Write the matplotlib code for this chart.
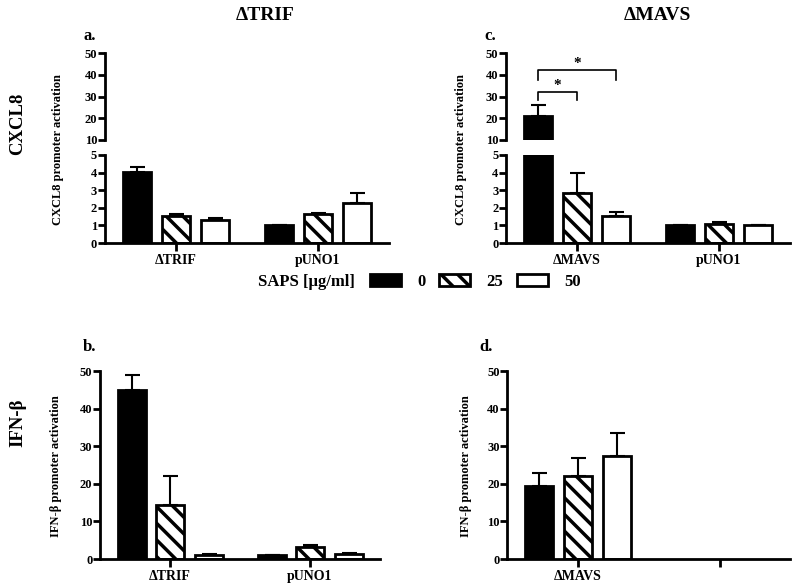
import matplotlib
matplotlib.use("Agg")
import matplotlib.pyplot as plt
import numpy as np
from matplotlib.patches import Patch

plt.rcParams['font.family'] = ['Liberation Serif', 'DejaVu Serif']
plt.rcParams['font.weight'] = 'bold'
plt.rcParams['hatch.linewidth'] = 2.5
plt.rcParams['hatch.color'] = 'black'

# ---- data ----
doses = ['0', '25', '50']
cat_a = ['ΔTRIF', 'pUNO1']
a_vals = [[4.05, 1.0], [1.55, 1.65], [1.3, 2.3]]      # per dose: [ΔTRIF, pUNO1]
a_err = [[0.25, 0.0], [0.08, 0.06], [0.1, 0.55]]
cat_c = ['ΔMAVS', 'pUNO1']
c_vals = [[21.0, 1.0], [2.85, 1.1], [1.55, 1.0]]
c_err = [[5.0, 0.0], [1.1, 0.07], [0.2, 0.02]]
cat_b = ['ΔTRIF', 'pUNO1']
b_vals = [[45.0, 1.0], [14.5, 3.3], [1.1, 1.3]]
b_err = [[4.0, 0.0], [7.5, 0.5], [0.1, 0.2]]
cat_d = ['ΔMAVS', '']
d_vals = [[19.3, 0.0], [22.2, 0.0], [27.3, 0.0]]
d_err = [[3.7, 0.0], [4.8, 0.0], [6.3, 0.0]]
d_show = [True, False]

colors = ['black', 'white', 'white']
hatches = [None, '\\\\', None]
offsets = [-0.275, 0.0, 0.275]
bw = 0.2

fig = plt.figure(figsize=(8, 5.87), dpi=100)

def style(ax, bottom=True):
    for s in ['top', 'right']:
        ax.spines[s].set_visible(False)
    ax.spines['left'].set_linewidth(2)
    ax.spines['bottom'].set_linewidth(2)
    if not bottom:
        ax.spines['bottom'].set_visible(False)
    ax.tick_params(direction='out', width=2, length=5, labelsize=9, pad=0.5)
    ax.tick_params(axis='x', length=6, pad=2, labelsize=10)
    for lab in ax.get_yticklabels() + ax.get_xticklabels():
        lab.set_fontweight('bold')

def draw_bars(ax, vals, err, show=None):
    x = np.arange(len(vals[0]))
    for i in range(3):
        for j in range(len(x)):
            if show is not None and not show[j]:
                continue
            ax.errorbar(x[j] + offsets[i], vals[i][j], yerr=[[0], [err[i][j]]],
                        fmt='none', ecolor='black', elinewidth=1.5, capsize=5.4,
                        capthick=1.5, zorder=1)
            ax.bar(x[j] + offsets[i], vals[i][j], width=bw, color=colors[i],
                   edgecolor='black', linewidth=2, hatch=hatches[i], zorder=2)
    ax.set_xlim(-0.5, 1.5)

def broken(left, vals, err, cats):
    w = 0.355
    axu = fig.add_axes([left, 0.7615, w, 0.148])
    axl = fig.add_axes([left, 0.586, w, 0.150])
    draw_bars(axu, vals, err)
    draw_bars(axl, vals, err)
    axu.set_ylim(10, 50)
    axu.set_yticks([10, 20, 30, 40, 50])
    axl.set_ylim(0, 5)
    axl.set_yticks([0, 1, 2, 3, 4, 5])
    axu.set_xticks([])
    axl.set_xticks([0, 1])
    axl.set_xticklabels(cats)
    style(axu, bottom=False)
    style(axl)
    return axu, axl

axu_a, axl_a = broken(0.131, a_vals, a_err, cat_a)
axu_c, axl_c = broken(0.6325, c_vals, c_err, cat_c)

# significance brackets in c
def bracket(ax, x1, x2, y, drop, ytext):
    ax.plot([x1, x1, x2, x2], [y - drop[0], y, y, y - drop[1]], color='black', lw=1.2, clip_on=False)
    ax.text((x1 + x2) / 2, ytext, '*', ha='center', va='center', fontsize=11)

bracket(axu_c, offsets[0], offsets[1], 32.3, (3.8, 4.0), 35.0)
bracket(axu_c, offsets[0], offsets[2], 42.3, (4.5, 4.5), 45.0)

ax_b = fig.add_axes([0.125, 0.0477, 0.35, 0.320])
draw_bars(ax_b, b_vals, b_err)
ax_b.set_ylim(0, 50)
ax_b.set_yticks([0, 10, 20, 30, 40, 50])
ax_b.set_xticks([0, 1])
ax_b.set_xticklabels(cat_b)
style(ax_b)

ax_d = fig.add_axes([0.634, 0.0477, 0.354, 0.320])
draw_bars(ax_d, d_vals, d_err, show=d_show)
ax_d.set_ylim(0, 50)
ax_d.set_yticks([0, 10, 20, 30, 40, 50])
ax_d.set_xticks([0, 1])
ax_d.set_xticklabels(cat_d)
style(ax_d)

# texts
H = 587.0
def ft(x, y, s, **kw):
    fig.text(x / 800.0, 1 - y / H, s, **kw)

ft(265, 16, 'ΔTRIF', ha='center', va='center', fontsize=14, fontweight='bold')
ft(657, 16, 'ΔMAVS', ha='center', va='center', fontsize=14, fontweight='bold')
ft(18, 124, 'CXCL8', ha='center', va='center', rotation=90, fontsize=13.5, fontweight='bold')
ft(18, 423, 'IFN-β', ha='center', va='center', rotation=90, fontsize=13.5, fontweight='bold')
ft(90, 36, 'a.', ha='center', va='center', fontsize=12, fontweight='bold')
ft(490, 36, 'c.', ha='center', va='center', fontsize=12, fontweight='bold')
ft(90, 347, 'b.', ha='center', va='center', fontsize=12, fontweight='bold')
ft(486, 347, 'd.', ha='center', va='center', fontsize=12, fontweight='bold')
ft(58, 150, 'CXCL8 promoter activation', ha='center', va='center', rotation=90, fontsize=9, fontweight='bold')
ft(461, 150, 'CXCL8 promoter activation', ha='center', va='center', rotation=90, fontsize=9, fontweight='bold')
ft(56, 466, 'IFN-β promoter activation', ha='center', va='center', rotation=90, fontsize=9, fontweight='bold')
ft(466, 466, 'IFN-β promoter activation', ha='center', va='center', rotation=90, fontsize=9, fontweight='bold')
ft(355, 282, 'SAPS [μg/ml]', ha='right', va='center', fontsize=12, fontweight='bold')

handles = [Patch(facecolor=colors[i], edgecolor='black', linewidth=2, hatch=hatches[i], label=doses[i]) for i in range(3)]
leg = fig.legend(handles=handles, loc='center left', bbox_to_anchor=(370 / 800.0, 1 - 282 / H),
                 ncol=3, frameon=False, fontsize=12, borderpad=0, borderaxespad=0,
                 handlelength=1.85, handleheight=0.7, handletextpad=1.0, columnspacing=0.8)
for t in leg.get_texts():
    t.set_fontweight('bold')

fig.savefig('out.png', dpi=100)
